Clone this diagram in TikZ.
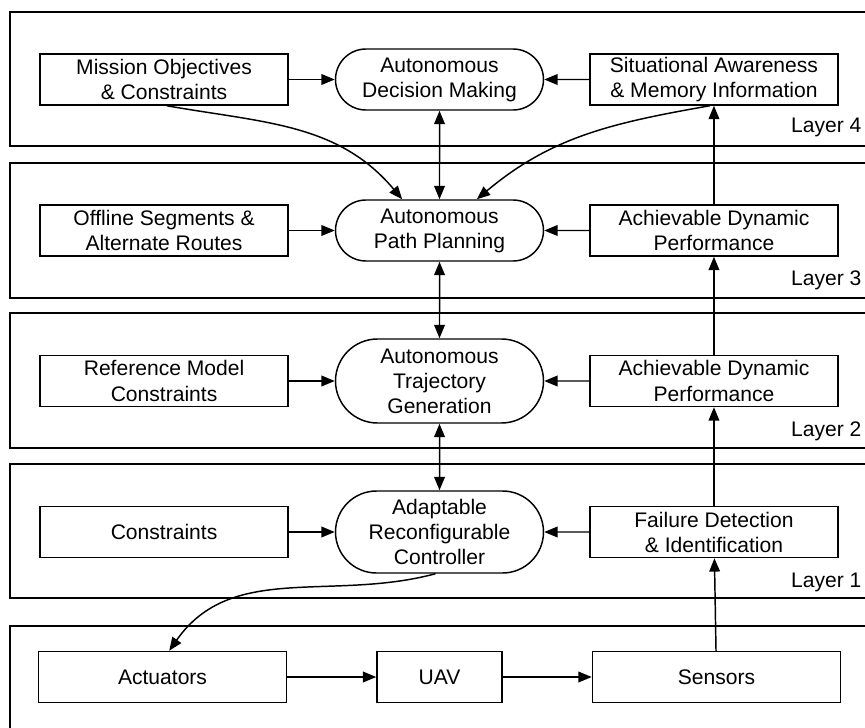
\documentclass[tikz,border=0pt]{standalone}
\usepackage{fontspec}
\setmainfont{Liberation Sans}
\usetikzlibrary{shapes.misc, arrows.meta, positioning}

\begin{document}
\begin{tikzpicture}[
    x=0.75pt, y=-0.75pt,
    node distance=34.5pt,
    every node/.style={align=center, font=\fontsize{15.8}{18.8}\selectfont},
    block/.style={rectangle, minimum width=186pt, minimum height=38.25pt, inner sep=1pt, draw=black, line width=1.1pt},
    stage/.style={rounded rectangle, minimum width=158pt, minimum height=45.75pt, inner sep=1pt, draw=black, line width=1.1pt},
    layer/.style={draw=black, line width=1.1pt},
    tag/.style={anchor=east, inner sep=1pt},
    arrow/.style={line width=1.1pt,-{Triangle[length=10pt,width=8pt]}},
    dblarrow/.style={line width=1.1pt,{Triangle[length=10pt,width=8pt]}-{Triangle[length=10pt,width=8pt]}}
]
\useasboundingbox (0,0) rectangle (865,728);

% Layer frames
\draw [layer] (10,12) rectangle (880,146);
\draw [layer] (10,163) rectangle (880,298);
\draw [layer] (10,313) rectangle (880,448);
\draw [layer] (10,464) rectangle (880,598);
\draw [layer] (10,626) rectangle (880,760);

\node (tag4) [tag] at (863,127) {Layer 4};
\node (tag3) [tag] at (863,280) {Layer 3};
\node (tag2) [tag] at (863,431) {Layer 2};
\node (tag1) [tag] at (863,582) {Layer 1};

% Layer 4
\node (decision) [stage] at (439.5,79.5) {Autonomous\\Decision Making};
\node (mission) [block, left=of decision] {Mission Objectives\\\& Constraints};
\node (aware) [block, right=33.75pt of decision] {Situational Awareness\\\& Memory Information};

% Layer 3
\node (path) [stage] at (439.5,230.5) {Autonomous\\Path Planning};
\node (offline) [block, left=of path] {Offline Segments \&\\Alternate Routes};
\node (perf3) [block, right=33.75pt of path] {Achievable Dynamic\\Performance};

% Layer 2
\node (traj) [stage, minimum height=63pt] at (439.5,381) {Autonomous\\Trajectory\\Generation};
\node (refmodel) [block, left=of traj] {Reference Model\\Constraints};
\node (perf2) [block, right=33.75pt of traj] {Achievable Dynamic\\Performance};

% Layer 1
\node (ctrl) [stage, minimum height=61.5pt] at (439.5,532) {Adaptable\\Reconfigurable\\Controller};
\node (constr) [block, left=of ctrl] {Constraints};
\node (fdi) [block, right=33.75pt of ctrl] {Failure Detection\\\& Identification};

% Vehicle
\node (uav) [block, minimum width=93.75pt] at (439.5,677) {UAV};
\node (act) [block, left=66.75pt of uav] {Actuators};
\node (sens) [block, right=66.75pt of uav] {Sensors};

% Arrows
\draw [arrow] (mission) -- (decision);
\draw [arrow] (aware) -- (decision);
\draw [arrow] (offline) -- (path);
\draw [arrow] (perf3) -- (path);
\draw [arrow] (refmodel) -- (traj);
\draw [arrow] (perf2) -- (traj);
\draw [arrow] (constr) -- (ctrl);
\draw [arrow] (fdi) -- (ctrl);
\draw [arrow] (act) -- (uav);
\draw [arrow] (uav) -- (sens);

\draw [dblarrow] (decision) -- (path);
\draw [dblarrow] (path) -- (traj);
\draw [dblarrow] (traj) -- (ctrl);

\draw [arrow] (sens) -- (fdi);
\draw [arrow] (fdi) -- (perf2);
\draw [arrow] (perf2) -- (perf3);
\draw [arrow] (perf3) -- (aware);

\draw [arrow] ([xshift=2pt]mission.south) to[out=-10, in=130] ([xshift=-28pt]path.north);
\draw [arrow] ([xshift=-3pt]aware.south) to[out=190, in=40] ([xshift=28pt]path.north);
\draw [arrow] ([xshift=-3pt]ctrl.south) to[out=195, in=55] ([xshift=5pt]act.north);

\end{tikzpicture}
\end{document}
